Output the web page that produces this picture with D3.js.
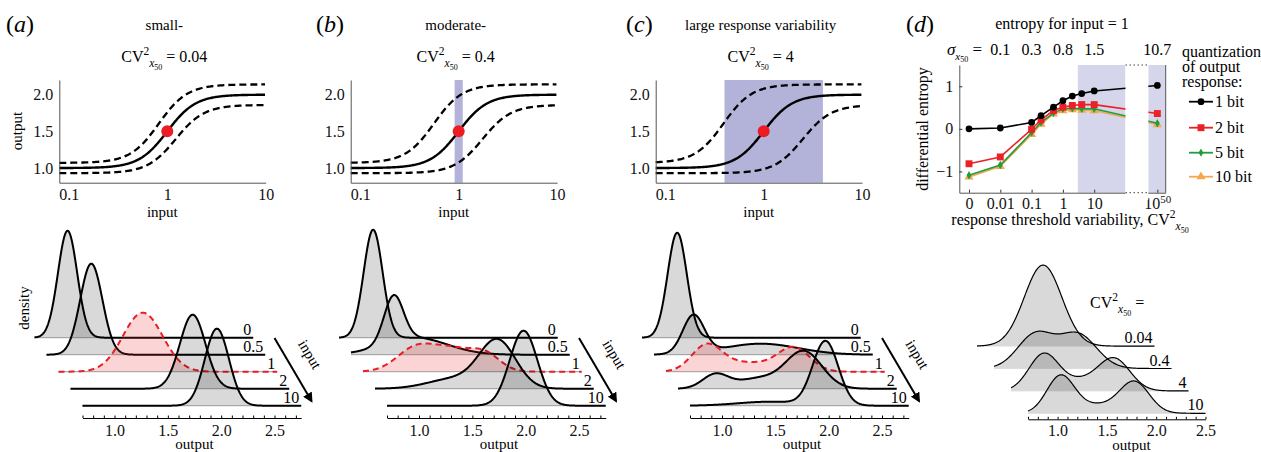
<!DOCTYPE html>
<html lang="en">
<head>
<meta charset="UTF-8">
<title>response variability</title>
<script src="https://d3js.org/d3.v7.min.js"></script>
<style>
  body { margin: 0; background: #fff; }
  svg, svg text { font-family: 'Liberation Serif', 'Times New Roman', 'DejaVu Serif', serif; }
</style>
</head>
<body>
<svg id="fig" width="1261" height="452" font-family="Liberation Serif"></svg>
<script>
// ---------- data ----------
const letters = ['a', 'b', 'c', 'd']
const panelTitles = ['small-', 'moderate-', 'large response variability']
const panelCV = ['0.04', '0.4', '4']
// dose-response curve (Hill type): output = low + (high-low) * x^n / (x^n + x50^n)
const hillN = 3
const hillLow = 1
const hillHigh = 2
const noiseScale = [1.07, 0.93]                       // upper / lower dashed curve
const x50Dashed = [[0.82, 1.22], [0.56, 1.75], [0.39, 2.5]]
const shadeTop = [null, [0.91, 1.1], [0.4, 4]]
const xTicksTop = [0.1, 1, 10]
const yTicksTop = [1, 1.5, 2]

// output densities for each input, components are [mean, sd, height]
const inputLabels = ['0', '0.5', '1', '2', '10']
const densA = [
  [[1.01, 0.09, 1.07]],
  [[1.12, 0.104, 0.91]],
  [[1.49, 0.186, 0.59]],
  [[1.845, 0.12, 0.74]],
  [[1.96, 0.113, 0.77]]
]
const densB = [
  [[1.02, 0.089, 1.08]],
  [[1.1, 0.09, 0.46], [1.3, 0.3, 0.17]],
  [[1.2, 0.18, 0.24], [1.55, 0.18, 0.2], [1.85, 0.14, 0.16]],
  [[1.85, 0.17, 0.47], [1.45, 0.25, 0.1]],
  [[1.98, 0.13, 0.75]]
]
const densC = [
  [[1.03, 0.09, 1.05]],
  [[1.07, 0.1, 0.38], [1.7, 0.35, 0.11]],
  [[1.08, 0.14, 0.25], [1.45, 0.25, 0.09], [1.9, 0.15, 0.23]],
  [[1.05, 0.12, 0.14], [1.45, 0.2, 0.1], [1.88, 0.17, 0.37]],
  [[1.97, 0.12, 0.64], [1.45, 0.3, 0.04]]
]
const cvRowLabels = ['0.04', '0.4', '4', '10']
const densD = [
  [[1.37, 0.19, 0.81]],
  [[1.12, 0.18, 0.34], [1.55, 0.19, 0.34]],
  [[1.03, 0.15, 0.36], [1.4, 0.2, 0.1], [1.75, 0.16, 0.31]],
  [[1.03, 0.14, 0.37], [1.4, 0.2, 0.08], [1.78, 0.15, 0.31]]
]
const outTicks = ['1.0', '1.5', '2.0', '2.5']

// panel d: differential entropy vs CV^2
const cvValues = [0, 0.01, 0.1, 0.2, 0.5, 1, 2, 4, 10, 1e50]
const ent1bit = [0.0, 0.02, 0.15, 0.31, 0.51, 0.66, 0.77, 0.83, 0.89, 1.02]
const ent2bit = [-0.82, -0.66, -0.01, 0.21, 0.43, 0.51, 0.55, 0.57, 0.57, 0.36]
const ent5bit = [-1.09, -0.85, -0.09, 0.15, 0.37, 0.47, 0.48, 0.47, 0.47, 0.13]
const ent10bit = [-1.13, -0.88, -0.13, 0.11, 0.35, 0.43, 0.45, 0.44, 0.43, 0.10]
const cvTicks = [0, 0.01, 0.1, 1, 10, 1e50]
const cvTickLabels = ['0', '0.01', '0.1', '1', '10', '10^50']
const sigmaLabels = ['0.1', '0.3', '0.8', '1.5', '10.7']
const shadeD = [[3, 100], [3e49, 3e50]]
const seriesNames = ['1 bit', '2 bit', '5 bit', '10 bit']
const seriesColors = ['#000000', '#ec2127', '#1f9e3c', '#f6a64e']

// ---------- drawing ----------
const svg = d3.select('#fig')
const red = '#ec1c24'
const serif = "'Liberation Serif', 'Times New Roman', serif"

function dens(comps, v) {
  return d3.sum(comps, c => c[2] * Math.exp(-((v - c[0]) ** 2) / (2 * c[1] * c[1])))
}

function styleAxis(g, size) {
  g.attr('font-family', serif).attr('font-size', size)
  g.selectAll('.domain').attr('stroke', '#555')
  g.selectAll('.tick line').attr('stroke', '#333')
  g.selectAll('.tick text').attr('fill', '#111')
}

// CV^2_x50 with super/subscripts
function cvText(t, size, tail, prefix = '') {
  t.append('tspan').text(prefix + 'CV')
  t.append('tspan').attr('dy', -size * 0.42).attr('font-size', size * 0.72).text('2')
  t.append('tspan').attr('dy', size * 0.72).attr('font-size', size * 0.72).attr('font-style', 'italic').text('x')
  t.append('tspan').attr('dy', size * 0.2).attr('font-size', size * 0.5).text('50')
  if (tail) t.append('tspan').attr('dy', -size * 0.5).text(tail)
}

function panelLetter(x, letter) {
  const t = svg.append('text').attr('x', x).attr('y', 32).attr('font-size', 24)
  t.append('tspan').text('(')
  t.append('tspan').attr('font-style', 'italic').text(letter)
  t.append('tspan').text(')')
}

svg.append('defs').append('marker')
  .attr('id', 'arr').attr('viewBox', '0 0 10 10').attr('refX', 8).attr('refY', 5)
  .attr('markerWidth', 5).attr('markerHeight', 5).attr('orient', 'auto')
  .append('path').attr('d', 'M0,0L10,5L0,10z').attr('fill', '#000')

// ---- top dose-response panels a-c ----
const topX0 = [59.3, 350.7, 655.7]
const letterX = [6, 316, 626]
topX0.forEach((x0, p) => {
  const g = svg.append('g')
  const x = d3.scaleLog().domain([0.08, 10]).range([x0, x0 + 206.4])
  const y = d3.scaleLinear().domain([0.8, 2.2]).range([182.7, 80])
  const cx = x0 + 105
  panelLetter(letterX[p], letters[p])
  g.append('text').attr('x', cx).attr('y', 30).attr('text-anchor', 'middle').attr('font-size', 15).text(panelTitles[p])
  cvText(g.append('text').attr('x', cx).attr('y', 62).attr('text-anchor', 'middle').attr('font-size', 16), 16, ' = ' + panelCV[p])

  if (shadeTop[p]) {
    g.append('rect').attr('x', x(shadeTop[p][0])).attr('y', 80)
      .attr('width', x(shadeTop[p][1]) - x(shadeTop[p][0])).attr('height', 102.7)
      .attr('fill', '#b3b3da')
  }
  const grid = d3.range(-1.097, 1.0001, 0.01).map(e => 10 ** e)
  const hill = (v, x50, s) => s * (hillLow + (hillHigh - hillLow) * v ** hillN / (v ** hillN + x50 ** hillN))
  const line = d3.line().x(d => x(d[0])).y(d => y(d[1]))
  g.append('path').datum(grid.map(v => [v, hill(v, 1, 1)])).attr('d', line)
    .attr('fill', 'none').attr('stroke', '#000').attr('stroke-width', 2.4)
  x50Dashed[p].forEach((x50, k) => {
    g.append('path').datum(grid.map(v => [v, hill(v, x50, noiseScale[k])])).attr('d', line)
      .attr('fill', 'none').attr('stroke', '#000').attr('stroke-width', 2.3).attr('stroke-dasharray', '7,4')
  })
  g.append('circle').attr('cx', x(1)).attr('cy', y(1.5)).attr('r', 6).attr('fill', red)

  const xa = g.append('g').attr('transform', 'translate(0,182.7)')
    .call(d3.axisBottom(x).tickValues(xTicksTop).tickFormat(d => d).tickSize(0).tickPadding(6))
  styleAxis(xa, 16)
  const ya = g.append('g').attr('transform', `translate(${x0},0)`)
    .call(d3.axisLeft(y).tickValues(yTicksTop).tickFormat(d3.format('.1f')).tickSize(0).tickPadding(6))
  styleAxis(ya, 16)
  g.append('text').attr('x', x0 + 103).attr('y', 217).attr('text-anchor', 'middle').attr('font-size', 15).text('input')
  if (p === 0) {
    g.append('text').attr('transform', 'translate(22,131) rotate(-90)').attr('text-anchor', 'middle').attr('font-size', 15).text('output')
  }
})

// ---- ridgeline densities ----
function drawRidge(opt) {
  const g = svg.append('g')
  const x = d3.scaleLinear().domain(opt.domain).range([opt.x0, opt.x0 + opt.len])
  const y = d3.scaleLinear().domain([0, 1]).range([0, -100])
  const n = opt.rows.length
  const grid = d3.range(opt.domain[0], opt.domain[1] + 1e-9, 0.005)
  opt.rows.forEach((comps, i) => {
    const k = n - 1 - i
    const isRed = opt.redRow === i
    const row = g.append('g').attr('transform', `translate(${-k * opt.dx},${opt.baseY - k * opt.dy})`)
    const pts = grid.map(v => [v, dens(comps, v)])
    row.append('path').datum(pts)
      .attr('d', d3.area().x(d => x(d[0])).y0(0).y1(d => y(d[1])))
      .attr('fill', isRed ? 'rgba(236,40,45,0.2)' : 'rgba(0,0,0,0.15)')
    row.append('line').attr('x1', x(opt.domain[0])).attr('x2', x(opt.domain[1]))
      .attr('stroke', opt.baseColor).attr('stroke-width', 1)
    row.append('path').datum(pts)
      .attr('d', d3.line().x(d => x(d[0])).y(d => y(d[1])))
      .attr('fill', 'none').attr('stroke', isRed ? red : '#000').attr('stroke-width', opt.lw)
      .attr('stroke-dasharray', isRed ? '6,4' : null)
    row.append('text').attr('x', x(opt.domain[1]) - 2).attr('y', -3).attr('text-anchor', 'end')
      .attr('font-size', 16).text(opt.labels[i])
  })
  const ticks = d3.range(Math.round(opt.domain[0] * 10), Math.floor(opt.domain[1] * 10 + 1e-6) + 1).map(v => v / 10)
  const ax = g.append('g').attr('transform', `translate(0,${opt.axisY})`)
    .call(d3.axisBottom(x).tickValues(ticks).tickSizeInner(-2.5).tickSizeOuter(0).tickPadding(opt.pad)
      .tickFormat(d => outTicks.includes(d.toFixed(1)) ? d.toFixed(1) : ''))
  styleAxis(ax, 16)
  ax.select('.domain').attr('stroke', '#000')
  ax.selectAll('.tick line').attr('stroke', '#000')
  g.append('text').attr('x', x(1.75)).attr('y', opt.axisY + 31).attr('text-anchor', 'middle')
    .attr('font-size', 15).text('output')
  return x
}

const ridgeX0 = [82.5, 387, 690]
;[densA, densB, densC].forEach((rows, p) => {
  const x0 = ridgeX0[p]
  drawRidge({ rows, labels: inputLabels, x0, len: 218.7, domain: [0.7, 2.75], baseY: 405.7,
    dx: 12, dy: 17, axisY: 418, redRow: 2, lw: 2, pad: 7, baseColor: '#999' })
  svg.append('line').attr('x1', x0 + 192).attr('y1', 338).attr('x2', x0 + 229).attr('y2', 401)
    .attr('stroke', '#000').attr('stroke-width', 2).attr('marker-end', 'url(#arr)')
  svg.append('text').attr('transform', `translate(${x0 + 223},${357}) rotate(59)`).attr('text-anchor', 'middle')
    .attr('font-size', 15).text('input')
})
svg.append('text').attr('transform', 'translate(29,308) rotate(-90)').attr('text-anchor', 'middle')
  .attr('font-size', 15).text('density')

drawRidge({ rows: densD, labels: cvRowLabels, x0: 1028, len: 177.5, domain: [0.7, 2.5], baseY: 413.3,
  dx: 17, dy: 22.4, axisY: 419.3, redRow: -1, lw: 1.2, pad: 5, baseColor: '#ddd' })
cvText(svg.append('text').attr('x', 1090).attr('y', 308).attr('font-size', 16), 16, ' =')

// ---- panel d: entropy ----
panelLetter(906, letters[3])
const lg = v => (v === 0 ? -3 : Math.log10(v))
const xs = d3.scaleLinear().domain([-3.31, 2, 49.48, 50.48]).range([959.3, 1125.5, 1148.3, 1165.7])
const ys = d3.scaleLinear().domain([-1.5, 1.5]).range([192.7, 65])
const gd = svg.append('g')

gd.append('text').attr('x', 1062).attr('y', 29).attr('text-anchor', 'middle').attr('font-size', 16)
  .text('entropy for input = 1')
shadeD.forEach(s => {
  gd.append('rect').attr('x', xs(lg(s[0]))).attr('y', 65).attr('width', xs(lg(s[1])) - xs(lg(s[0])))
    .attr('height', 127.7).attr('fill', '#d5d5eb')
})
const xAx = gd.append('g').attr('transform', 'translate(0,192.7)')
  .call(d3.axisBottom(xs).tickValues(cvTicks.map(lg)).tickSizeInner(-3).tickSizeOuter(0).tickPadding(5)
    .tickFormat((d, i) => cvTickLabels[i]))
styleAxis(xAx, 16)
xAx.selectAll('.tick text').filter(d => d === 50).each(function () {
  const t = d3.select(this).text('10')
  t.append('tspan').attr('dy', -6).attr('font-size', 11).text('50')
})
const yAx = gd.append('g').attr('transform', 'translate(959.3,0)')
  .call(d3.axisLeft(ys).tickValues([-1, 0, 1]).tickSizeInner(-3).tickSizeOuter(0).tickPadding(6)
    .tickFormat(d => (d < 0 ? '\u2212' : '') + Math.abs(d)))
styleAxis(yAx, 16)
gd.append('line').attr('x1', 1165.7).attr('x2', 1165.7).attr('y1', 65).attr('y2', 192.7)
  .attr('stroke', '#555').attr('stroke-width', 1)

const allSeries = [ent1bit, ent2bit, ent5bit, ent10bit]
const symbols = [d3.symbolCircle, d3.symbolSquare, d3.symbolDiamond, d3.symbolTriangle]
const symSizes = [36, 48, 20, 36]
const lineD = d3.line().x(d => xs(lg(d[0]))).y(d => ys(d[1]))
;[3, 2, 1, 0].forEach(s => {
  const pts = cvValues.map((c, i) => [c, allSeries[s][i]])
  gd.append('path').datum(pts).attr('d', lineD).attr('fill', 'none')
    .attr('stroke', seriesColors[s]).attr('stroke-width', 1.6)
  gd.selectAll(null).data(pts).join('path')
    .attr('transform', d => `translate(${xs(lg(d[0]))},${ys(d[1])})`)
    .attr('d', d3.symbol(symbols[s], symSizes[s]))
    .attr('fill', seriesColors[s])
})
// axis break
gd.append('rect').attr('x', 1125.5).attr('y', 60).attr('width', 22.8).attr('height', 140).attr('fill', '#fff')
;[65, 192.7].forEach(yy => {
  gd.append('line').attr('x1', 1125.5).attr('x2', 1148.3).attr('y1', yy).attr('y2', yy)
    .attr('stroke', '#444').attr('stroke-width', 1).attr('stroke-dasharray', '1.5,2.5')
})

// sigma line
const sg = gd.append('text').attr('x', 982).attr('y', 55).attr('text-anchor', 'end').attr('font-size', 17)
sg.append('tspan').attr('font-style', 'italic').text('\u03c3')
sg.append('tspan').attr('dy', 5).attr('font-size', 11).attr('font-style', 'italic').text('x')
sg.append('tspan').attr('dy', 2).attr('font-size', 8).text('50')
sg.append('tspan').attr('dy', -7).text(' =')
gd.selectAll(null).data(sigmaLabels).join('text')
  .attr('x', (d, i) => xs(lg(cvTicks[i + 1]))).attr('y', 55).attr('text-anchor', 'middle')
  .attr('font-size', 16).text(d => d)

gd.append('text').attr('transform', 'translate(928,129) rotate(-90)').attr('text-anchor', 'middle')
  .attr('font-size', 16).text('differential entropy')
cvText(gd.append('text').attr('x', 1070).attr('y', 225).attr('text-anchor', 'middle').attr('font-size', 16),
  16, '', 'response threshold variability, ')

// legend
;['quantization', 'of output', 'response:'].forEach((t, i) => {
  gd.append('text').attr('x', 1182).attr('y', 57 + i * 15).attr('font-size', 16).text(t)
})
seriesNames.forEach((name, s) => {
  const yy = [101.7, 127.7, 152.7, 176.7][s]
  gd.append('line').attr('x1', 1189).attr('x2', 1213).attr('y1', yy).attr('y2', yy)
    .attr('stroke', seriesColors[s]).attr('stroke-width', 1.8)
  gd.append('path').attr('transform', `translate(1201,${yy})`).attr('d', d3.symbol(symbols[s], symSizes[s]))
    .attr('fill', seriesColors[s])
  gd.append('text').attr('x', 1215).attr('y', yy + 5).attr('font-size', 16).text(name)
})
</script>
</body>
</html>
